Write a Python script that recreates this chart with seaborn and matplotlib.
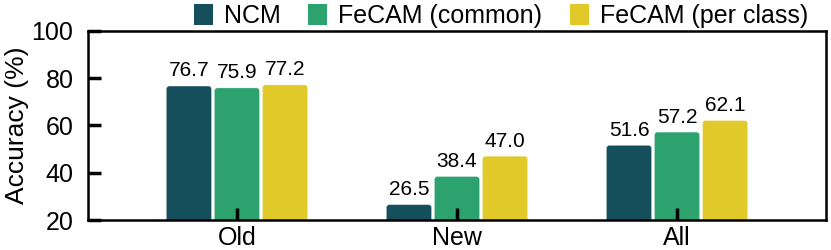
import matplotlib
matplotlib.use("Agg")
import matplotlib.pyplot as plt
import seaborn as sns
import pandas as pd
from matplotlib.patches import FancyBboxPatch

categories = ["Old", "New", "All"]
methods = ["NCM", "FeCAM (common)", "FeCAM (per class)"]
ncm = [76.7, 26.5, 51.6]
fecam_common = [75.9, 38.4, 57.2]
fecam_per_class = [77.2, 47.0, 62.1]
colors = ["#154F5B", "#2CA26E", "#E0C928"]

rows = []
for m, vals in zip(methods, [ncm, fecam_common, fecam_per_class]):
    for c, v in zip(categories, vals):
        rows.append({"Split": c, "Method": m, "Acc": v})
df = pd.DataFrame(rows)

sns.set_style("white")
plt.rcParams["font.family"] = ["Liberation Sans", "DejaVu Sans"]
plt.rcParams["text.color"] = "black"
plt.rcParams["xtick.bottom"] = True
plt.rcParams["ytick.left"] = True
plt.rcParams["xtick.direction"] = "in"
plt.rcParams["ytick.direction"] = "in"
plt.rcParams["xtick.major.size"] = 9
plt.rcParams["ytick.major.size"] = 9
plt.rcParams["xtick.major.width"] = 2.5
plt.rcParams["ytick.major.width"] = 2.5
plt.rcParams["axes.axisbelow"] = False

fig = plt.figure(figsize=(8.31, 2.5), dpi=100)
ax = fig.add_axes([88/831, 1 - 220/250, (826-88)/831, (220-31)/250])
sns.barplot(data=df, x="Split", y="Acc", hue="Method", order=categories,
            hue_order=methods, palette=colors, saturation=1, width=0.655, gap=0.06,
            ax=ax, legend=True, edgecolor="none")
ax.set_ylim(20, 100)
ax.set_xlim(-0.677, 2.677)
ax.set_yticks([20, 40, 60, 80, 100])
ax.set_xlabel("")
ax.set_ylabel("Accuracy (%)", fontsize=19, labelpad=2, color="black")
ax.tick_params(axis="both", which="major", direction="in", length=9, width=2.5,
               labelsize=18, colors="black", bottom=True, left=True)
ax.tick_params(axis="x", pad=4)
ax.tick_params(axis="y", pad=10.5)
ax.set_axisbelow(False)
for s in ax.spines.values():
    s.set_visible(True)
    s.set_color("black")
    s.set_linewidth(1.8)
for cont in ax.containers:
    ax.bar_label(cont, fmt="%.1f", fontsize=15, padding=4, color="black")

# rounded bar corners
px_x = 220.0
px_y = 189.0 / 80.0
r_px = 3.0
rx = r_px / px_x
aspect = (r_px / px_y) / rx
for cont in ax.containers:
    for p in cont.patches:
        x, y = p.get_x(), p.get_y()
        w, h = p.get_width(), p.get_height()
        fc = p.get_facecolor()
        p.set_visible(False)
        fb = FancyBboxPatch((x, y), w, h,
                            boxstyle=f"round,pad=0,rounding_size={rx}",
                            mutation_aspect=aspect, facecolor=fc,
                            edgecolor=(1, 1, 1, 0.35), linewidth=0.6, zorder=2)
        ax.add_patch(fb)

leg = ax.get_legend()
leg.remove()
handles, labels = ax.get_legend_handles_labels()
fig.legend(handles, labels, loc="upper center", bbox_to_anchor=(0.603, 1.075), ncol=3,
           frameon=False, fontsize=18, handlelength=0.75, handleheight=0.9,
           handletextpad=0.45, columnspacing=1.1, labelcolor="black")
fig.savefig("out.png", dpi=100)
